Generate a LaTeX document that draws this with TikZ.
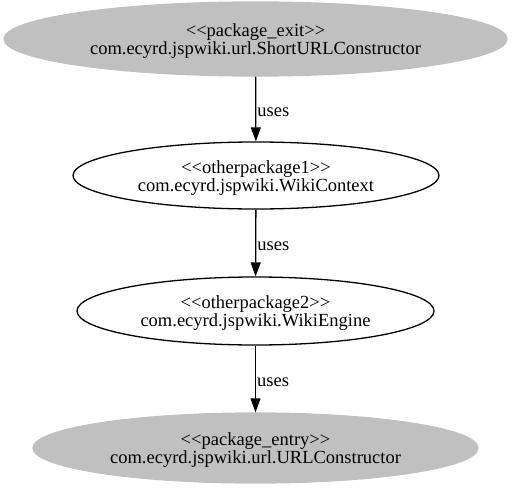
\documentclass[tikz,border=0pt]{standalone}
\usepackage{fontspec}
\setmainfont{Liberation Serif}[Ligatures=ResetAll]
\usetikzlibrary{shapes.geometric,arrows.meta}
\definecolor{pkggray}{HTML}{C0C0C0}
% stereotype line in plain angle brackets, with a strut to lower the text block
\newcommand{\stereo}[1]{\rule{0pt}{17bp}<\kern0pt<#1>\kern0pt>}
\begin{document}
\begin{tikzpicture}[x=1bp,y=-1bp,
  pkg/.style={ellipse,draw=black,line width=1.3bp,inner sep=0pt,
    font=\fontsize{18.5bp}{18bp}\selectfont,align=center},
  endpoint/.style={pkg,fill=pkggray,draw=pkggray},
  uses/.style={-{Triangle[length=14bp,width=10bp]},line width=1.3bp},
  lbl/.style={font=\fontsize{18.5bp}{18bp}\selectfont,anchor=west,inner sep=1bp,yshift=-3bp}]
\useasboundingbox (0,0) rectangle (512,488);
\node[endpoint,minimum width=503bp,minimum height=74bp] (exit) at (255.5,39)
  {\stereo{package\_exit}\\com.ecyrd.jspwiki.url.ShortURLConstructor};
\node[pkg,minimum width=366bp,minimum height=67bp] (ctx) at (256,175.5)
  {\stereo{otherpackage1}\\com.ecyrd.jspwiki.WikiContext};
\node[pkg,minimum width=357bp,minimum height=68bp] (eng) at (255.5,311)
  {\stereo{otherpackage2}\\com.ecyrd.jspwiki.WikiEngine};
\node[endpoint,minimum width=445bp,minimum height=70bp] (entry) at (255.5,448)
  {\stereo{package\_entry}\\com.ecyrd.jspwiki.url.URLConstructor};
\draw[uses] (exit) -- node[lbl] {uses} (ctx);
\draw[uses] (ctx) -- node[lbl] {uses} (eng);
\draw[uses] (eng) -- node[lbl] {uses} (entry);
\end{tikzpicture}
\end{document}
